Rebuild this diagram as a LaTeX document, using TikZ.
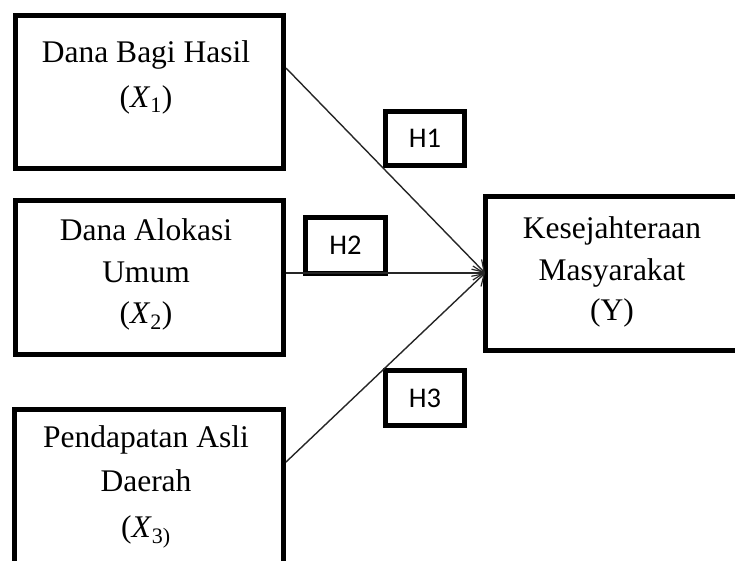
\documentclass[tikz,border=0pt]{standalone}
\usepackage{fontspec}
\setmainfont{Liberation Serif}
\newfontfamily\hfont{Carlito}
\usetikzlibrary{arrows.meta}
\tikzset{
  frame/.style={draw=black, line width=5pt, fill=white},
  hbox/.style={draw=black, line width=5pt, fill=white},
  label/.style={anchor=base, inner sep=0pt, font=\fontsize{31.5}{38}\selectfont},
  hlabel/.style={inner sep=0pt, font=\hfont\fontsize{28.5}{34}\selectfont},
  link/.style={draw=black!85, line width=1.4pt, -{Straight Barb[length=11pt,width=14pt,line width=1.2pt]}}
}
\newcommand{\Xsub}[1]{(\textit{X}\textsubscript{#1})}
\begin{document}
\begin{tikzpicture}[x=1pt,y=-1pt]
  \useasboundingbox (0,0) rectangle (735,560);
  \clip (0,0) rectangle (735,560);
  % independent variable frames
  \draw[frame] (15.5,15.5) rectangle (283.5,168.5);
  \draw[frame] (15.5,200.5) rectangle (283.5,354.5);
  \draw[frame] (14.5,409.5) rectangle (283.5,600);
  % dependent variable frame (runs past the right edge)
  \draw[frame] (485.5,196.5) rectangle (760,350.5);
  % anchor points for the connectors
  \coordinate (s1) at (286,68);
  \coordinate (s2) at (286,273);
  \coordinate (s3) at (286,462);
  \coordinate (t) at (485,273);
  % hypothesis boxes
  \node[hbox, minimum width=79pt, minimum height=54pt] (h1) at (425,138.5) {};
  \node[hbox, minimum width=80pt, minimum height=56pt] (h2) at (345.5,245.5) {};
  \node[hbox, minimum width=79pt, minimum height=55pt] (h3) at (425,398) {};
  \node[hlabel] (h1t) at (h1) {H1};
  \node[hlabel] (h2t) at (h2) {H2};
  \node[hlabel] (h3t) at (h3) {H3};
  % connectors
  \draw[link] (s1) -- (t);
  \draw[link] (s2) -- (t);
  \draw[link] (s3) -- (t);
  % box texts
  \node[label] (a1) at (146,62) {Dana Bagi Hasil};
  \node[label] (a2) at (146,107) {\Xsub{1}};
  \node[label] (b1) at (146,240) {Dana Alokasi};
  \node[label] (b2) at (146,282) {Umum};
  \node[label] (b3) at (146,323) {\Xsub{2}};
  \node[label] (c1) at (146,447) {Pendapatan Asli};
  \node[label] (c2) at (146,491) {Daerah};
  \node[label] (c3) at (146,537) {(\textit{X}\textsubscript{3)}};
  \node[label] (y1) at (612,238) {Kesejahteraan};
  \node[label] (y2) at (612,280) {Masyarakat};
  \node[label] (y3) at (612,320) {(Y)};
\end{tikzpicture}
\end{document}
